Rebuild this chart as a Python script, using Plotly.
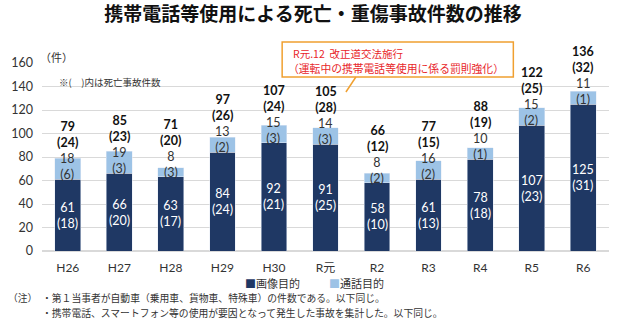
import plotly.graph_objects as go

categories = ["H26", "H27", "H28", "H29", "H30", "R元", "R2", "R3", "R4", "R5", "R6"]
image_cases = [61, 66, 63, 84, 92, 91, 58, 61, 78, 107, 125]
image_deaths = [18, 20, 17, 24, 21, 25, 10, 13, 18, 23, 31]
call_cases = [18, 19, 8, 13, 15, 14, 8, 16, 10, 15, 11]
call_deaths = [6, 3, 3, 2, 3, 3, 2, 2, 1, 2, 1]
total_cases = [79, 85, 71, 97, 107, 105, 66, 77, 88, 122, 136]
total_deaths = [24, 23, 20, 26, 24, 28, 12, 15, 19, 25, 32]

W, H = 620, 324
L, R, T, B = 40, 11, 63, 73
PW, PH = W - L - R, H - T - B
FONT = "Noto Sans CJK JP"
NUM = "Lato, Noto Sans CJK JP"
DARK = "#1f3864"
LIGHT = "#9dc3e6"


def px(x):
    return (x - L) / PW


def py(y):
    return (H - B - y) / PH


fig = go.Figure()
fig.add_trace(go.Bar(x=categories, y=image_cases, name="画像目的", marker_color=DARK, width=0.5,
                     showlegend=False))
fig.add_trace(go.Bar(x=categories, y=call_cases, name="通話目的", marker_color=LIGHT, width=0.5,
                     showlegend=False))

ann = []
for i, c in enumerate(categories):
    ann.append(dict(x=c, y=image_cases[i] / 2, xref="x", yref="y",
                    text=f"{image_cases[i]}<br>({image_deaths[i]})", showarrow=False,
                    font=dict(family=NUM, size=12.5, color="white"), yanchor="middle"))
    ann.append(dict(x=c, y=image_cases[i], xref="x", yref="y",
                    text=f"{call_cases[i]}<br>({call_deaths[i]})", showarrow=False,
                    font=dict(family=NUM, size=12.5, color="#333333"), yanchor="bottom", yshift=-5))
    ann.append(dict(x=c, y=image_cases[i], xref="x", yref="y",
                    text=f"<b>{total_cases[i]}</b><br><b>({total_deaths[i]})</b>", showarrow=False,
                    font=dict(family=NUM, size=12.5, color="#111111"), yanchor="bottom", yshift=27))

ann.append(dict(x=px(36), y=py(57), xref="paper", yref="paper", text="（件）", showarrow=False,
                xanchor="left", yanchor="middle", font=dict(family=FONT, size=11, color="#333333")))
ann.append(dict(x=px(55), y=py(82), xref="paper", yref="paper", text="※(　)内は死亡事故件数",
                showarrow=False, xanchor="left", yanchor="middle",
                font=dict(family=FONT, size=9.5, color="#333333")))
ann.append(dict(x=px(291), y=py(53), xref="paper", yref="paper",
                text="R元.12  改正道交法施行", borderpad=0,
                showarrow=False, xanchor="left", yanchor="middle", align="left",
                font=dict(family=FONT, size=10.5, color="#e8262a")))
ann.append(dict(x=px(286), y=py(68), xref="paper", yref="paper",
                text="（運転中の携帯電話等使用に係る罰則強化）", borderpad=0,
                showarrow=False, xanchor="left", yanchor="middle", align="left",
                font=dict(family=FONT, size=10.8, color="#e8262a")))
ann.append(dict(x=px(242), y=py(283), xref="paper", yref="paper",
                text=f"<span style='color:{DARK}'>■</span>画像目的", showarrow=False,
                xanchor="left", yanchor="middle", font=dict(family=FONT, size=11, color="#333333")))
ann.append(dict(x=px(326), y=py(283), xref="paper", yref="paper",
                text=f"<span style='color:{LIGHT}'>■</span>通話目的", showarrow=False,
                xanchor="left", yanchor="middle", font=dict(family=FONT, size=11, color="#333333")))
ann.append(dict(x=px(4), y=py(298), xref="paper", yref="paper", text="（注）",
                showarrow=False, xanchor="left", yanchor="middle",
                font=dict(family=FONT, size=9.8, color="#333333")))
ann.append(dict(x=px(38), y=py(298), xref="paper", yref="paper",
                text="・第１当事者が自動車（乗用車、貨物車、特殊車）の件数である。以下同じ。",
                showarrow=False, xanchor="left", yanchor="middle",
                font=dict(family=FONT, size=9.8, color="#333333")))
ann.append(dict(x=px(38), y=py(313), xref="paper", yref="paper",
                text="・携帯電話、スマートフォン等の使用が要因となって発生した事故を集計した。以下同じ。",
                showarrow=False, xanchor="left", yanchor="middle",
                font=dict(family=FONT, size=9.8, color="#333333")))

shapes = [
    dict(type="rect", xref="paper", yref="paper", x0=px(281), x1=px(513), y0=py(77), y1=py(42),
         line=dict(color="#f0a030", width=1.5), fillcolor="white", layer="above"),
    dict(type="line", xref="paper", yref="paper", x0=px(355), x1=px(345), y0=py(77), y1=py(92),
         line=dict(color="#f0a030", width=1.5)),
]

fig.update_layout(
    width=W, height=H, barmode="stack",
    margin=dict(l=L, r=R, t=T, b=B),
    paper_bgcolor="white", plot_bgcolor="white",
    font=dict(family=FONT, size=11, color="#333333"),
    title=dict(text="<b>携帯電話等使用による死亡・重傷事故件数の推移</b>", x=313 / W, xref="container",
               xanchor="center", y=1 - 14 / H, yref="container", yanchor="middle",
               font=dict(family=FONT, size=19, color="#111111")),
    xaxis=dict(range=[-0.5, 10.5], showgrid=False, showline=False, ticks="",
               tickfont=dict(family=NUM, size=12, color="#333333"), ticklabelstandoff=8),
    yaxis=dict(range=[0, 160], dtick=20, showgrid=True, gridcolor="#d9d9d9", gridwidth=1,
               zeroline=True, zerolinecolor="#d9d9d9", showline=False, ticks="",
               tickfont=dict(family=NUM, size=12.5, color="#333333"), ticklabelstandoff=8),
    showlegend=False,
    annotations=ann, shapes=shapes, bargap=0.5,
)
fig.update_traces(cliponaxis=False)

fig.write_html("out.html")
